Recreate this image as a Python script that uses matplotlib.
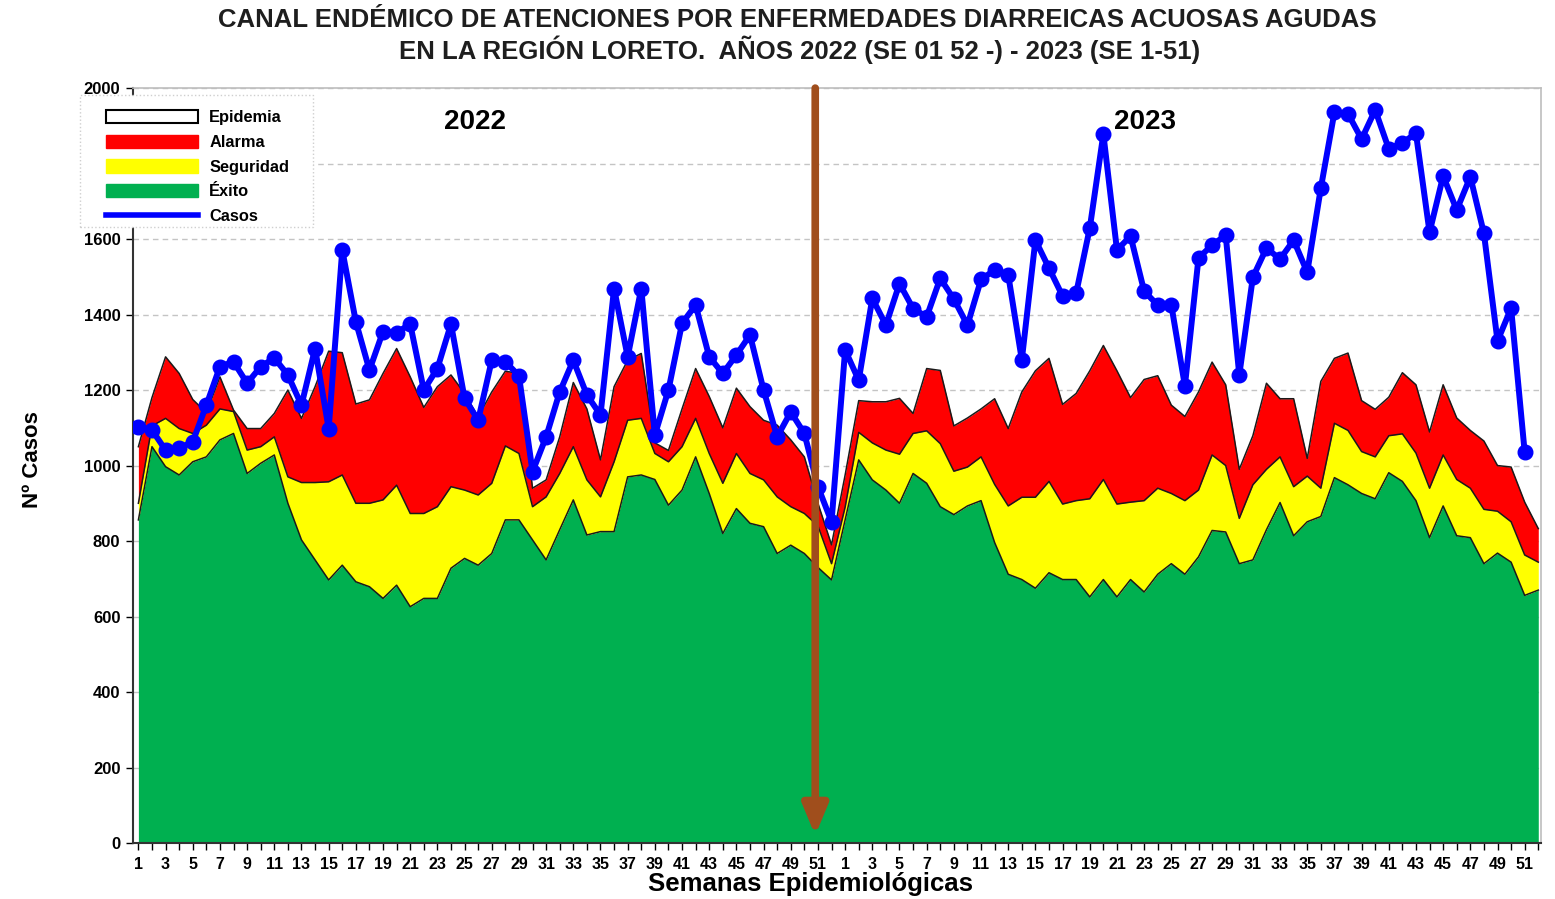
import numpy as np
import matplotlib
matplotlib.use("Agg")
import matplotlib.pyplot as plt
from matplotlib.patches import Patch, Rectangle
from matplotlib.lines import Line2D

# Semanas epidemiologicas
semanas_2022 = list(range(1, 53))
semanas_2023 = list(range(1, 53))

# Casos notificados (2022: SE 1-52, 2023: SE 1-51)
casos_2022 = [1103, 1094, 1041, 1046, 1063, 1160, 1262, 1275, 1218, 1262,
              1285, 1240, 1160, 1310, 1098, 1571, 1381, 1253, 1355, 1352,
              1375, 1200, 1257, 1375, 1178, 1120, 1279, 1275, 1238, 984,
              1076, 1195, 1279, 1187, 1134, 1469, 1288, 1469, 1081, 1200,
              1377, 1425, 1288, 1244, 1293, 1346, 1200, 1076, 1142, 1085,
              944, 851]
casos_2023 = [1306, 1226, 1443, 1372, 1482, 1416, 1394, 1496, 1441, 1372,
              1493, 1518, 1505, 1280, 1597, 1523, 1449, 1457, 1629, 1878,
              1571, 1608, 1462, 1425, 1425, 1211, 1550, 1584, 1610, 1240,
              1499, 1576, 1547, 1597, 1512, 1735, 1936, 1932, 1865, 1942,
              1839, 1855, 1880, 1618, 1767, 1677, 1765, 1615, 1330, 1417,
              1035]

# Limites superiores de cada zona del canal endemico
exito_2022 = [856, 1050, 997, 975, 1010, 1023, 1068, 1085, 979, 1006,
              1028, 900, 803, 750, 697, 736, 692, 679, 648, 683,
              626, 648, 648, 728, 754, 736, 767, 856, 856, 803,
              750, 830, 909, 816, 825, 825, 970, 975, 963, 895,
              935, 1023, 926, 820, 886, 847, 838, 767, 789, 767,
              730, 697]
seguridad_2022 = [900, 1105, 1125, 1098, 1085, 1107, 1150, 1143, 1041, 1050,
                  1076, 970, 955, 955, 957, 975, 900, 900, 909, 948,
                  873, 873, 891, 944, 935, 922, 953, 1052, 1032, 891,
                  917, 979, 1050, 962, 917, 1010, 1120, 1125, 1032, 1010,
                  1050, 1125, 1032, 953, 1032, 979, 962, 917, 891, 873,
                  840, 740]
alarma_2022 = [1050, 1180, 1288, 1244, 1175, 1140, 1235, 1147, 1098, 1098,
               1138, 1200, 1125, 1209, 1303, 1299, 1163, 1174, 1244, 1310,
               1235, 1154, 1209, 1240, 1191, 1129, 1195, 1250, 1244, 940,
               962, 1076, 1220, 1150, 1015, 1209, 1279, 1297, 1060, 1040,
               1150, 1257, 1183, 1100, 1205, 1156, 1120, 1107, 1068, 1023,
               900, 790]

exito_2023 = [856, 1015, 962, 935, 900, 979, 953, 891, 870, 893,
              907, 796, 712, 698, 675, 716, 698, 698, 652, 698,
              652, 698, 665, 712, 740, 712, 758, 828, 824, 740,
              750, 830, 902, 814, 851, 865, 968, 949, 926, 912,
              981, 958, 907, 809, 893, 814, 809, 740, 768, 744,
              656, 670]
seguridad_2023 = [890, 1088, 1060, 1041, 1030, 1085, 1092, 1058, 985, 996,
                  1023, 950, 893, 916, 916, 958, 898, 907, 912, 963,
                  898, 903, 907, 940, 926, 907, 935, 1028, 1000, 860,
                  949, 990, 1023, 944, 972, 940, 1112, 1093, 1037, 1023,
                  1079, 1084, 1033, 940, 1028, 963, 940, 884, 879, 851,
                  763, 744]
alarma_2023 = [975, 1172, 1169, 1169, 1178, 1138, 1257, 1252, 1105, 1126,
               1150, 1177, 1098, 1195, 1251, 1284, 1162, 1191, 1251, 1318,
               1251, 1180, 1228, 1238, 1160, 1130, 1195, 1274, 1214, 990,
               1079, 1218, 1177, 1177, 1019, 1223, 1284, 1298, 1172, 1149,
               1181, 1246, 1214, 1089, 1214, 1126, 1093, 1065, 1000, 996,
               903, 833]

exito = np.array(exito_2022 + exito_2023)
seguridad = np.array(seguridad_2022 + seguridad_2023)
alarma = np.array(alarma_2022 + alarma_2023)
casos = np.array(casos_2022 + casos_2023)
semanas = semanas_2022 + semanas_2023

x = np.arange(len(exito))
xc = np.arange(len(casos))

VERDE = "#00B050"
AMARILLO = "#FFFF00"
ROJO = "#FF0000"
AZUL = "#0000FF"
MARRON = "#A04E1C"

W, H = 1555.0, 899.0
fig = plt.figure(figsize=(W / 100, H / 100), dpi=100)
ax = fig.add_axes([0.0855, 0.0623, 0.9055, 0.8397])

ax.yaxis.grid(True, linestyle=(0, (4, 3)), color="#c4c4c4", linewidth=1.0, zorder=0)
ax.set_axisbelow(True)

# zonas del canal endemico
ax.fill_between(x, 0, exito, color=VERDE, lw=0, zorder=1)
ax.fill_between(x, exito, seguridad, color=AMARILLO, lw=0, zorder=1)
ax.fill_between(x, seguridad, alarma, color=ROJO, lw=0, zorder=1)
for lim in (exito, seguridad, alarma):
    ax.plot(x, lim, color="#1a1a1a", lw=1.1, zorder=2)

# casos
ax.plot(xc, casos, color=AZUL, lw=4.3, marker="o", markersize=10.5, zorder=4)

# separacion entre anios
ax.annotate("", xy=(49.8, 20), xytext=(49.8, 2000),
            arrowprops=dict(arrowstyle="-|>,head_length=1.8,head_width=0.75",
                            color=MARRON, lw=5.5, shrinkA=0, shrinkB=0),
            zorder=6)

ax.text(24.8, 1910, "2022", fontsize=20, fontweight="bold",
        family="Liberation Sans", ha="center", va="center", zorder=5)
ax.text(74.1, 1910, "2023", fontsize=20, fontweight="bold",
        family="Liberation Sans", ha="center", va="center", zorder=5)

ax.set_xlim(-0.4, 103.2)
ax.set_ylim(0, 2000)
ax.set_yticks(np.arange(0, 2001, 200))
ax.set_yticklabels([str(v) for v in range(0, 2001, 200)], fontsize=12,
                   fontweight="bold", family="Liberation Sans")
ax.set_xticks(x)
ax.set_xticklabels([str(s) if (s % 2 == 1 and s <= 51) else "" for s in semanas],
                   fontsize=11.5, fontweight="bold",
                   family=["Liberation Sans Narrow", "Liberation Sans"])
ax.tick_params(axis="x", length=5, width=1, pad=5)
ax.tick_params(axis="y", length=5, width=1, pad=4)

for s in ("left", "bottom"):
    ax.spines[s].set_color("#333333")
    ax.spines[s].set_linewidth(1.5)
for s in ("top", "right"):
    ax.spines[s].set_color("#bdbdbd")
    ax.spines[s].set_linewidth(1.2)

fig.text(810 / W, 1 - 884 / H, "Semanas Epidemiológicas", fontsize=18.5,
         fontweight="bold", family="Liberation Sans", ha="center", va="center")
fig.text(33 / W, 1 - 460 / H, "Nº Casos", fontsize=16, fontweight="bold",
         family="Liberation Sans", ha="center", va="center", rotation=90)

fig.text(797 / W, 1 - 20 / H, "CANAL ENDÉMICO DE ATENCIONES POR ENFERMEDADES DIARREICAS ACUOSAS AGUDAS",
         fontsize=18.5, fontweight="bold", family="Liberation Sans",
         color="#1e1e1e", ha="center", va="center")
fig.text(800 / W, 1 - 50 / H, "EN LA REGIÓN LORETO.  AÑOS 2022 (SE 01 52 -) - 2023 (SE 1-51)",
         fontsize=18.5, fontweight="bold", family="Liberation Sans",
         color="#1e1e1e", ha="center", va="center")

# leyenda con recuadro punteado
caja = Rectangle((80 / W, 1 - 227 / H), 233 / W, 132 / H, transform=fig.transFigure,
                 facecolor="white", edgecolor="#cfcfcf", linestyle=":", lw=1.0,
                 zorder=4)
fig.patches.append(caja)

handles = [
    Patch(facecolor="white", edgecolor="black", lw=1.5),
    Patch(facecolor=ROJO, edgecolor=ROJO),
    Patch(facecolor=AMARILLO, edgecolor=AMARILLO),
    Patch(facecolor=VERDE, edgecolor=VERDE),
    Line2D([], [], color=AZUL, lw=4),
]
labels = ["Epidemia", "Alarma", "Seguridad", "Éxito", "Casos"]
leg = fig.legend(handles, labels, loc="upper left",
                 bbox_to_anchor=(106 / W, 1 - 110 / H), frameon=False,
                 borderpad=0, borderaxespad=0, handlelength=5.6, handleheight=0.85,
                 handletextpad=0.7, labelspacing=0.58,
                 prop={"family": "Liberation Sans", "weight": "bold", "size": 11.8})
leg.set_zorder(5)

fig.savefig("out.png", dpi=100)
